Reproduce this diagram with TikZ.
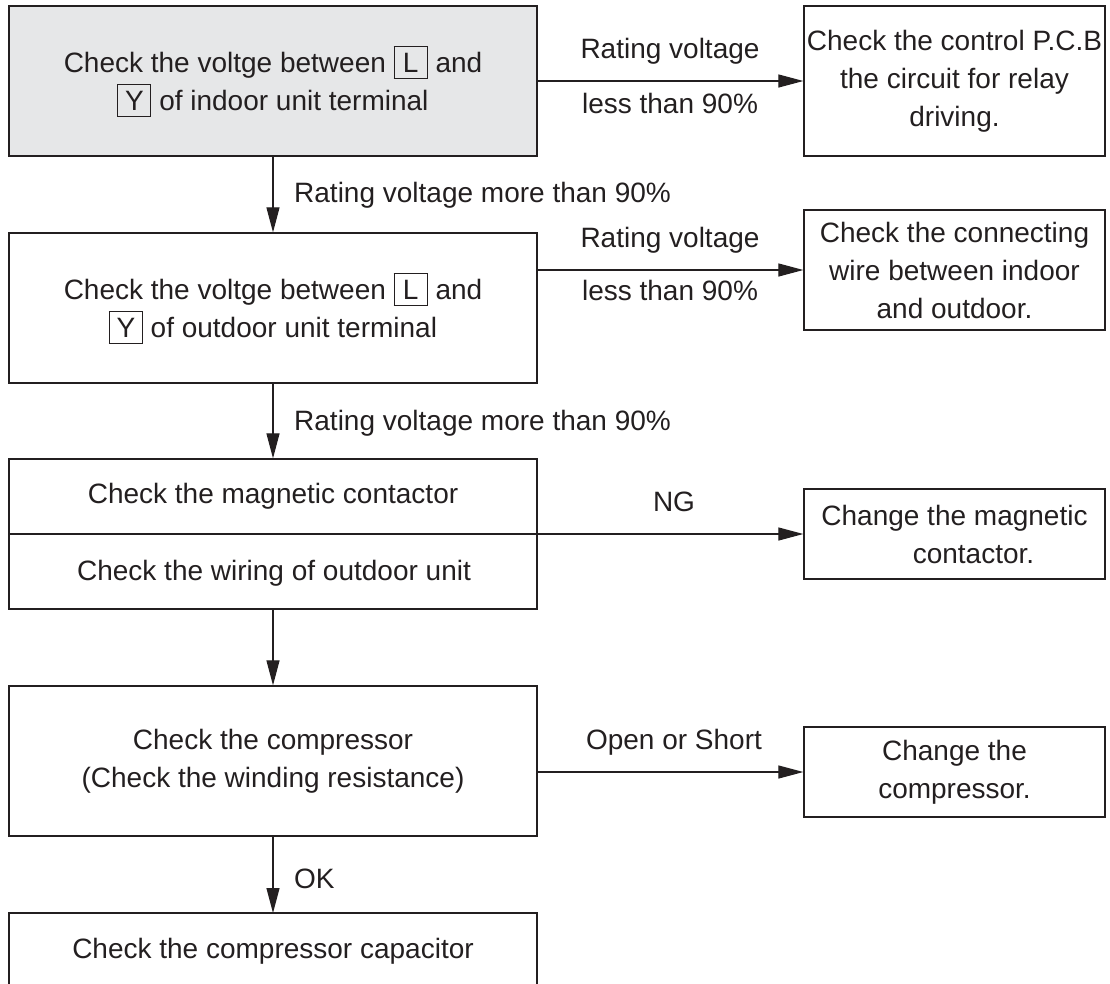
\documentclass[tikz,border=0pt]{standalone}
\usepackage{fontspec}
\setmainfont{Liberation Sans}
\usetikzlibrary{arrows.meta}
\definecolor{ink}{HTML}{231F20}
\definecolor{boxgray}{HTML}{E6E7E8}
\newcommand{\tbox}[1]{{\setlength{\fboxsep}{3pt}\setlength{\fboxrule}{1pt}\fbox{\rule[-2pt]{0pt}{25pt}\makebox[26pt]{#1}}}}
\begin{document}
\begin{tikzpicture}[x=1pt,y=-1pt,
  every node/.style={text=ink, font=\fontsize{28}{38}\selectfont},
  lbox/.style={draw=ink, line width=1.3pt, minimum width=528pt, minimum height=150pt, inner sep=0pt, align=center},
  rbox/.style={draw=ink, line width=1.3pt, minimum width=301pt, inner sep=0pt, align=center},
  lab/.style={inner sep=0pt},
  arr/.style={draw=ink, line width=1.2pt, -{Triangle[length=25pt,width=13pt]}}
]
\useasboundingbox (0,0) rectangle (1110,983);
\clip (0,0) rectangle (1110,983);
% left column
\node[lbox, fill=boxgray] (b1) at (273,81) {Check the voltge between \tbox{L} and\\\tbox{Y} of indoor unit terminal};
\node[lbox] (b2) at (273,308) {Check the voltge between \tbox{L} and\\\tbox{Y} of outdoor unit terminal};
\node[lbox, minimum height=150pt] (b3) at (273,534) {};
\draw[draw=ink, line width=1.3pt] (b3.west) -- (b3.east);
\node[lab, anchor=base] (b3a) at (273,503) {Check the magnetic contactor};
\node[lab, anchor=base] (b3b) at (274,580) {Check the wiring of outdoor unit};
\node[lbox] (b4) at (273,761) {Check the compressor\\(Check the winding resistance)};
\coordinate (b5top) at (273,913);
\coordinate (b5l) at (9,913);
\coordinate (b5r) at (537,913);
\draw[draw=ink, line width=1.3pt] ([yshift=-90pt]b5l) -- (b5l) -- (b5r) -- ([yshift=-90pt]b5r);
\node[lab, anchor=base] (b5t) at (273,958) {Check the compressor capacitor};
% right column
\node[rbox, minimum height=150pt] (r1) at (954.5,81) {Check the control P.C.B\\the circuit for relay\\driving.};
\node[rbox, minimum height=120pt] (r2) at (954.5,270) {Check the connecting\\wire between indoor\\and outdoor.};
\node[rbox, minimum height=90pt] (r3) at (954.5,534) {Change the magnetic\\\hspace*{38pt}contactor.};
\node[rbox, minimum height=90pt] (r4) at (954.5,772) {Change the\\compressor.};
% vertical arrows
\draw[arr] (b1.south) -- (b2.north);
\draw[arr] (b2.south) -- (b3.north);
\draw[arr] (b3.south) -- (b4.north);
\draw[arr] (b4.south) -- (b5top);
\node[lab, anchor=base west] (v1) at (294,202) {Rating voltage more than 90\%};
\node[lab, anchor=base west] (v2) at (294,430) {Rating voltage more than 90\%};
\node[lab, anchor=base west] (v3) at (294,888) {OK};
% horizontal arrows
\draw[arr] (b1.east) -- (r1.west);
\draw[arr] (b2.east |- r2.west) -- (r2.west);
\draw[arr] (b3.east) -- (r3.west);
\draw[arr] (b4.east |- r4.west) -- (r4.west);
\node[lab, anchor=base] (h1a) at (670,58) {Rating voltage};
\node[lab, anchor=base] (h1b) at (670,113) {less than 90\%};
\node[lab, anchor=base] (h2a) at (670,247) {Rating voltage};
\node[lab, anchor=base] (h2b) at (670,300) {less than 90\%};
\node[lab, anchor=base] (h3) at (674,511) {NG};
\node[lab, anchor=base] (h4) at (674,749) {Open or Short};
\end{tikzpicture}
\end{document}
